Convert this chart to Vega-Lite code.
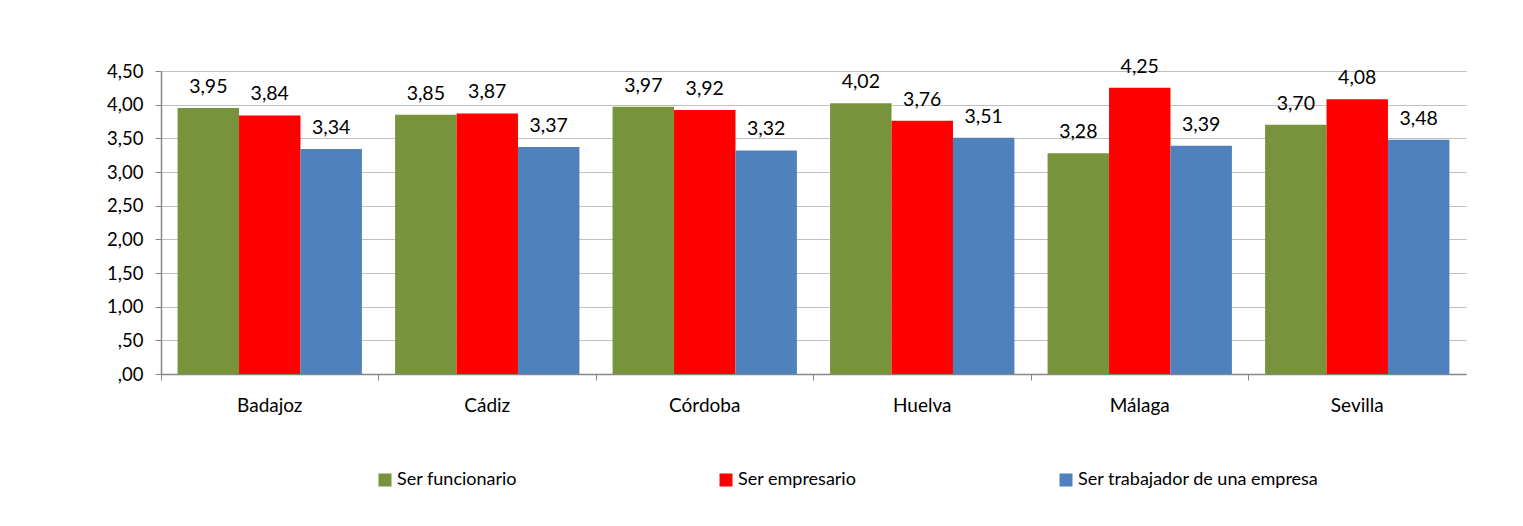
{
  "$schema": "https://vega.github.io/schema/vega-lite/v6.json",
  "width": 1305,
  "height": 303,
  "autosize": "none",
  "padding": {"left": 161, "top": 71, "right": 57, "bottom": 152},
  "background": "white",
  "config": {
    "locale": {"number": {"decimal": ",", "thousands": ".", "grouping": [3], "currency": ["", " €"]}},
    "font": "Lato",
    "view": {"stroke": null},
    "axis": {"labelFont": "Lato", "labelColor": "#000000", "domainColor": "#868686", "tickColor": "#868686", "gridColor": "#c0c0c0"}
  },
  "data": {
    "values": [
      {"provincia": "Badajoz", "serie": "Ser funcionario", "valor": 3.95},
      {"provincia": "Badajoz", "serie": "Ser empresario", "valor": 3.84},
      {"provincia": "Badajoz", "serie": "Ser trabajador de una empresa", "valor": 3.34},
      {"provincia": "Cádiz", "serie": "Ser funcionario", "valor": 3.85},
      {"provincia": "Cádiz", "serie": "Ser empresario", "valor": 3.87},
      {"provincia": "Cádiz", "serie": "Ser trabajador de una empresa", "valor": 3.37},
      {"provincia": "Córdoba", "serie": "Ser funcionario", "valor": 3.97},
      {"provincia": "Córdoba", "serie": "Ser empresario", "valor": 3.92},
      {"provincia": "Córdoba", "serie": "Ser trabajador de una empresa", "valor": 3.32},
      {"provincia": "Huelva", "serie": "Ser funcionario", "valor": 4.02},
      {"provincia": "Huelva", "serie": "Ser empresario", "valor": 3.76},
      {"provincia": "Huelva", "serie": "Ser trabajador de una empresa", "valor": 3.51},
      {"provincia": "Málaga", "serie": "Ser funcionario", "valor": 3.28},
      {"provincia": "Málaga", "serie": "Ser empresario", "valor": 4.25},
      {"provincia": "Málaga", "serie": "Ser trabajador de una empresa", "valor": 3.39},
      {"provincia": "Sevilla", "serie": "Ser funcionario", "valor": 3.70},
      {"provincia": "Sevilla", "serie": "Ser empresario", "valor": 4.08},
      {"provincia": "Sevilla", "serie": "Ser trabajador de una empresa", "valor": 3.48}
    ]
  },
  "encoding": {
    "x": {
      "field": "provincia", "type": "nominal", "sort": null,
      "scale": {"paddingInner": 0, "paddingOuter": 0},
      "axis": {"title": null, "labelAngle": 0, "labelFontSize": 19, "tickSize": 6, "labelPadding": 16, "bandPosition": 0, "grid": false, "domainWidth": 1.5}
    },
    "xOffset": {
      "field": "serie", "type": "nominal",
      "sort": ["Ser funcionario", "Ser empresario", "Ser trabajador de una empresa"],
      "scale": {"paddingInner": 0, "paddingOuter": 0.27}
    },
    "y": {
      "field": "valor", "type": "quantitative",
      "scale": {"domain": [0, 4.5], "nice": false},
      "axis": {"title": null, "values": [0, 0.5, 1, 1.5, 2, 2.5, 3, 3.5, 4, 4.5], "labelFontSize": 18.5, "tickSize": 6, "labelPadding": 12, "domainWidth": 1.5,
               "labelExpr": "replace(replace(format(datum.value, '.2f'), '.', ','), '0,', ',')"}
    }
  },
  "layer": [
    {
      "mark": {"type": "bar"},
      "encoding": {
        "color": {
          "field": "serie", "type": "nominal",
          "sort": ["Ser funcionario", "Ser empresario", "Ser trabajador de una empresa"],
          "scale": {"domain": ["Ser funcionario", "Ser empresario", "Ser trabajador de una empresa"], "range": ["#77933C", "#FF0000", "#4F81BD"]},
          "legend": {
            "title": null, "orient": "none", "legendX": 215, "legendY": 400,
            "direction": "horizontal", "columns": 3, "columnPadding": 200,
            "symbolType": "square", "symbolSize": 169, "symbolStrokeWidth": 0, "symbolOffset": 0,
            "labelFontSize": 18, "labelFont": "Lato", "labelColor": "#000000", "labelOffset": 3, "labelLimit": 400
          }
        }
      }
    },
    {
      "mark": {"type": "text", "baseline": "alphabetic", "dy": -15, "fontSize": 19.5, "font": "Lato", "color": "#000000"},
      "encoding": {
        "text": {"field": "valor", "type": "quantitative", "format": ".2f"}
      }
    }
  ]
}
